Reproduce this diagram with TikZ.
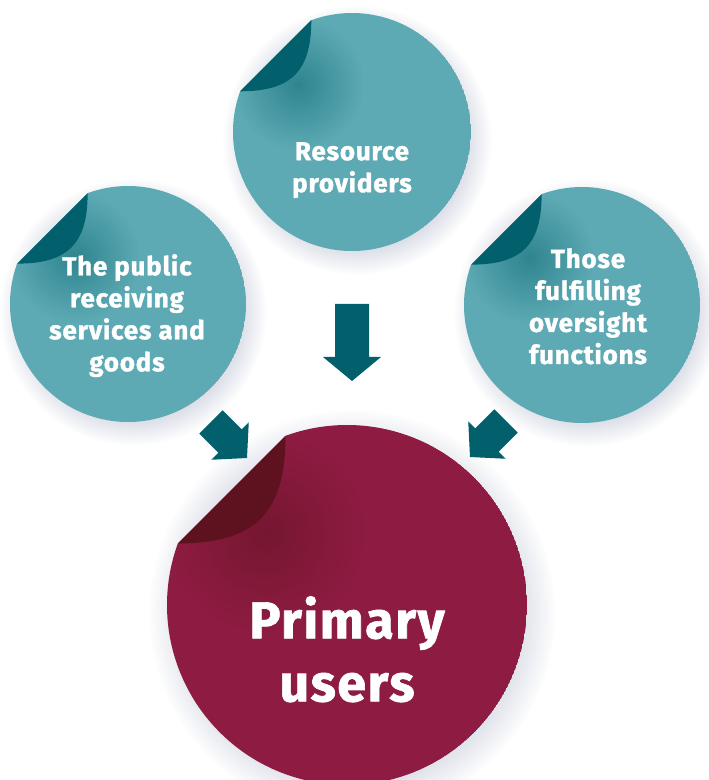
\documentclass[tikz,border=0pt]{standalone}
\usepackage{fontspec}
\setmainfont{Fira Sans}
\newfontfamily\lblfont{Fira Sans}[LetterSpace=3, BoldFeatures={FakeBold=1.3}]
\usetikzlibrary{fadings,calc}
\definecolor{tealL}{HTML}{5DAAB4}
\definecolor{tealD}{HTML}{01606B}
\definecolor{maroonB}{HTML}{8E1C42}
\definecolor{maroonD}{HTML}{5E121F}
\definecolor{shadowc}{HTML}{BCC2D3}
\pgfdeclareradialshading{shadowshade}{\pgfpointorigin}{color(0bp)=(white); color(16bp)=(white); color(25bp)=(black); color(50bp)=(black)}
\pgfdeclarefading{shadowfade}{\pgfuseshading{shadowshade}}
\pgfdeclareradialshading{blobshade}{\pgfpointorigin}{color(0bp)=(white); color(25bp)=(black); color(50bp)=(black)}
\pgfdeclarefading{blobfade}{\pgfuseshading{blobshade}}
\newcommand{\stickershadow}[2]{%
  \fill[shadowc, path fading=shadowfade] ($(#1)+(5,-8)$) circle ({#2*1.13});}
\newcommand{\stickerbody}[5]{%
  \begin{scope}
    \clip (#1) ++(160:#2) arc[start angle=160,end angle=470,radius=#2] -- cycle;
    \fill[#3] (#1) circle (#2);
    \fill[#5, opacity=0.5, path fading=blobfade] ($(#1)+({-0.45*#2},{0.4*#2})$) circle ({0.55*#2});
  \end{scope}
  \fill[#4] ($(#1)+(110:#2)$) .. controls +(0,{-0.43*#2}) and +({0.43*#2},0) .. ($(#1)+(160:#2)$) -- cycle;}
\tikzset{
  lbl/.style={text=white, inner sep=0pt, align=center, anchor=north,
    font=\lblfont\fontsize{26}{32}\selectfont\bfseries},
  biglbl/.style={text=white, inner sep=0pt, align=center, anchor=north,
    font=\lblfont\fontsize{52}{63}\selectfont\bfseries},
  blockarrow/.pic={\fill[tealD] (0,0) -- (-24,29) -- (-24,17) -- (-77,17) -- (-77,-17) -- (-24,-17) -- (-24,-29) -- cycle;},
  diagarrow/.pic={\fill[tealD] (0,0) -- (-24,26.5) -- (-24,16.5) -- (-51,16.5) -- (-51,-16.5) -- (-24,-16.5) -- (-24,-26.5) -- cycle;}
}
\begin{document}
\begin{tikzpicture}[x=1pt,y=1pt]
\fill[white] (0,0) rectangle (709,780);
\useasboundingbox (0,0) rectangle (709,780);
\coordinate (ctop) at (352,648);
\coordinate (cleft) at (128,476);
\coordinate (cright) at (582,475);
\coordinate (cbig) at (347,175);
\stickershadow{ctop}{119}
\stickershadow{cleft}{118}
\stickershadow{cright}{118}
\stickershadow{cbig}{180}
\stickerbody{ctop}{119}{tealL}{tealD}{tealD}
\stickerbody{cleft}{118}{tealL}{tealD}{tealD}
\stickerbody{cright}{118}{tealL}{tealD}{tealD}
\stickerbody{cbig}{180}{maroonB}{maroonD}{maroonD}
\node[lbl] (ttop) at (352,638) {Resource\\providers};
\node[lbl] (tleft) at (127,526) {The public\\receiving\\services and\\goods};
\node[lbl] (tright) at (588,532) {Those\\fulfilling\\oversight\\functions};
\node[biglbl] (tbig) at (347,184) {Primary\\users};
\pic[rotate=-90] (atop) at (352,399) {blockarrow};
\pic[rotate=-45] (aleft) at (247,322) {diagarrow};
\pic[rotate=-135] (aright) at (470,323) {diagarrow};
\end{tikzpicture}
\end{document}
